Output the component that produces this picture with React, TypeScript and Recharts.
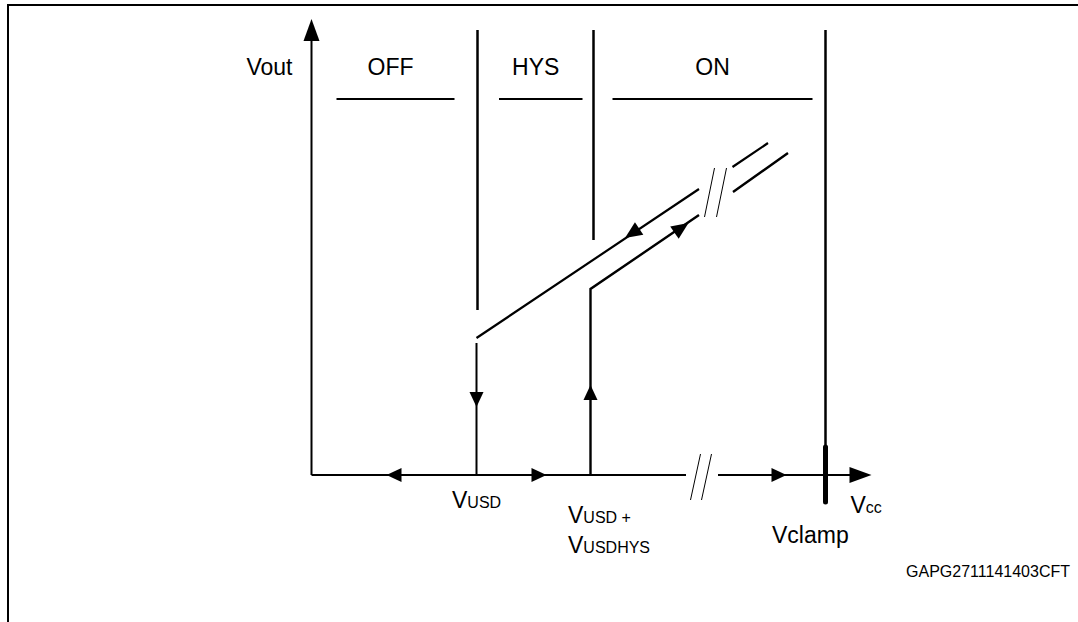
// Undervoltage shutdown hysteresis diagram (Recharts ComposedChart)
import React from "react";
import {
  ComposedChart,
  Line,
  Scatter,
  XAxis,
  YAxis,
  ReferenceLine,
  ReferenceDot,
} from "recharts";

const FONT = '"Liberation Sans", Arial, sans-serif';

// drawing units: Vcc across, Vout up, origin where the two axes meet
const vccDomain = [-31.15, 76.65];
const voutDomain = [-14.7, 47.5];

// operating zones written over the plot
const zoneNames = ["OFF", "HYS", "ON"];
const zoneFrom = [2.5, 18.75, 30.1];
const zoneTo = [14.3, 27.1, 50.1];
const zoneVout = 37.6;

// vertical zone dividers
const dividerVcc = [16.6, 28.2, 51.4];
const dividerTop = [44.5, 44.5, 44.5];
const dividerBottom = [16.5, 23.5, 2.8];
const clampMark = [2.8, -2.7];

// thresholds on the Vcc axis
const vusd = 16.5;
const vusdHys = 27.9;
const vclamp = 51.4;
const vccEnd = 56.0;
const voutEnd = 45.6;

// falling branch (from ON down to OFF), null = break in the line
const fallVcc = [45.65, 42.1, 40.4, 38.75, 16.5];
const fallVout = [33.2, 30.8, null, 28.6, 13.7];
const dropVcc = [16.5, 16.5];
const dropVout = [13.2, 0];

// rising branch (from OFF up to ON)
const riseVcc = [27.9, 27.9, 38.75, 40.4, 42.15, 47.65];
const riseVout = [0, 18.6, 26.0, null, 28.3, 32.2];

// axes
const axisVcc = [0, 37.45, 39.0, 40.65, 55.0];
const axisVout = [0, 0, null, 0, 0];
const yAxisVcc = [0, 0];
const yAxisVout = [0, 44.0];

// "//" break marks
const axisBreakVcc = [37.9, 39.0];
const axisBreakVout = [-2.5, 2.1];
const slopeBreakVcc = [39.3, 40.5];
const slopeBreakVout = [25.8, 30.7];

const deg = (dy: number, dx: number) => (Math.atan2(dy, dx) * 180) / Math.PI;
const fallAngle = deg(fallVout[3]! - fallVout[4]!, fallVcc[3] - fallVcc[4]) + 180;
const riseAngle = deg(riseVout[2]! - riseVout[1]!, riseVcc[2] - riseVcc[1]);

// flow arrows on the Vcc axis and the two verticals
const arrowVcc = [7.5, 23.5, 47.5, 16.5, 27.9];
const arrowVout = [0, 0, 0, 6.8, 9.0];
const arrowAngle = [180, 0, 0, -90, 90];

// flow arrows on the two slopes
const slopeArrowVcc = [31.35, 37.7];
const slopeArrowVout = [23.7, 25.2];
const slopeArrowAngle = [fallAngle, riseAngle];

// axis heads
const headVcc = [vccEnd, 0];
const headVout = [0, voutEnd];
const headAngle = [0, 90];

const pts = (xs: number[], ys: (number | null)[]) =>
  xs.map((x, i) => ({ vcc: x, vout: ys[i] }));

const arrows = (xs: number[], ys: number[], angles: number[]) =>
  xs.map((x, i) => ({ vcc: x, vout: ys[i], angle: angles[i] }));

const arrowShape = (len: number, half: number) => (p: any) =>
  (
    <polygon
      points={`0,0 ${-len},${-half} ${-len},${half}`}
      transform={`translate(${p.cx},${p.cy}) rotate(${-p.payload.angle})`}
      fill="#000"
    />
  );

const SubText = ({
  x,
  y,
  main,
  sub,
}: {
  x: number;
  y: number;
  main: string;
  sub: string;
}) => (
  <text x={x} y={y} fontFamily={FONT} fill="#000">
    <tspan fontSize={23}>{main}</tspan>
    <tspan fontSize={16}>{sub}</tspan>
  </text>
);

const seg = (x1: number, y1: number, x2: number, y2: number) => [
  { x: x1, y: y1 },
  { x: x2, y: y2 },
];

export default function App() {
  const lineProps = {
    dataKey: "vout",
    stroke: "#000",
    dot: false,
    activeDot: false,
    isAnimationActive: false,
  } as const;

  return (
    <div
      style={{
        position: "absolute",
        left: 0,
        top: 0,
        width: 1078,
        height: 622,
        background: "#fff",
      }}
    >
      <div
        style={{
          position: "absolute",
          left: 7,
          top: 4,
          width: 1071,
          height: 618,
          borderTop: "2px solid #000",
          borderLeft: "2px solid #000",
        }}
      />
      <div
        style={{
          position: "absolute",
          right: 8,
          top: 563,
          fontFamily: FONT,
          fontSize: 16,
          color: "#000",
        }}
      >
        GAPG2711141403CFT
      </div>
      <div style={{ position: "absolute", left: 0, top: 0 }}>
        <ComposedChart
          width={1078}
          height={622}
          margin={{ top: 0, right: 0, bottom: 0, left: 0 }}
        >
          <XAxis
            dataKey="vcc"
            type="number"
            domain={vccDomain}
            allowDataOverflow
            hide
          />
          <YAxis type="number" domain={voutDomain} allowDataOverflow hide />

          {zoneNames.map((_, i) => (
            <ReferenceLine
              key={"z" + i}
              segment={seg(zoneFrom[i], zoneVout, zoneTo[i], zoneVout)}
              stroke="#000"
              strokeWidth={2}
            />
          ))}
          {dividerVcc.map((x, i) => (
            <ReferenceLine
              key={"d" + i}
              segment={seg(x, dividerTop[i], x, dividerBottom[i])}
              stroke="#000"
              strokeWidth={2.5}
            />
          ))}
          <ReferenceLine
            segment={seg(vclamp, clampMark[0], vclamp, clampMark[1])}
            stroke="#000"
            strokeWidth={5}
            strokeLinecap="round"
          />
          {[0, 1].map((i) => (
            <ReferenceLine
              key={"ab" + i}
              segment={seg(
                axisBreakVcc[i],
                axisBreakVout[0],
                axisBreakVcc[i] + 1.0,
                axisBreakVout[1]
              )}
              stroke="#000"
              strokeWidth={1}
            />
          ))}
          {[0, 1].map((i) => (
            <ReferenceLine
              key={"sb" + i}
              segment={seg(
                slopeBreakVcc[i],
                slopeBreakVout[0],
                slopeBreakVcc[i] + 1.0,
                slopeBreakVout[1]
              )}
              stroke="#000"
              strokeWidth={1}
            />
          ))}

          <Line data={pts(axisVcc, axisVout)} strokeWidth={2} {...lineProps} />
          <Line data={pts(yAxisVcc, yAxisVout)} strokeWidth={2} {...lineProps} />
          <Line data={pts(fallVcc, fallVout)} strokeWidth={2.2} {...lineProps} />
          <Line data={pts(dropVcc, dropVout)} strokeWidth={2} {...lineProps} />
          <Line data={pts(riseVcc, riseVout)} strokeWidth={2.4} {...lineProps} />

          <Scatter
            data={arrows(arrowVcc, arrowVout, arrowAngle)}
            dataKey="vout"
            shape={arrowShape(15, 7)}
            isAnimationActive={false}
          />
          <Scatter
            data={arrows(slopeArrowVcc, slopeArrowVout, slopeArrowAngle)}
            dataKey="vout"
            shape={arrowShape(17, 7.5)}
            isAnimationActive={false}
          />
          <Scatter
            data={arrows(headVcc, headVout, headAngle)}
            dataKey="vout"
            shape={arrowShape(22, 8)}
            isAnimationActive={false}
          />

          {zoneNames.map((name, i) => (
            <ReferenceDot
              key={"zl" + i}
              x={(zoneFrom[i] + zoneTo[i]) / 2}
              y={zoneVout}
              r={0}
              shape={(p: any) => (
                <text
                  x={p.cx - (i < 2 ? 5 : 0)}
                  y={p.cy - 24}
                  textAnchor="middle"
                  fontFamily={FONT}
                  fontSize={23}
                  fill="#000"
                >
                  {name}
                </text>
              )}
            />
          ))}
          <ReferenceDot
            x={0}
            y={voutEnd}
            r={0}
            shape={(p: any) => (
              <text
                x={p.cx - 19}
                y={p.cy + 56}
                textAnchor="end"
                fontFamily={FONT}
                fontSize={23}
                fill="#000"
              >
                Vout
              </text>
            )}
          />
          <ReferenceDot
            x={vusd}
            y={0}
            r={0}
            shape={(p: any) => (
              <SubText x={p.cx - 24.5} y={p.cy + 33} main="V" sub="USD" />
            )}
          />
          <ReferenceDot
            x={vusdHys}
            y={0}
            r={0}
            shape={(p: any) => (
              <g>
                <SubText x={p.cx - 22.5} y={p.cy + 48} main="V" sub="USD +" />
                <SubText x={p.cx - 22.5} y={p.cy + 78} main="V" sub="USDHYS" />
              </g>
            )}
          />
          <ReferenceDot
            x={vclamp}
            y={0}
            r={0}
            shape={(p: any) => (
              <text
                x={p.cx - 53.5}
                y={p.cy + 68}
                fontFamily={FONT}
                fontSize={23}
                fill="#000"
              >
                Vclamp
              </text>
            )}
          />
          <ReferenceDot
            x={vccEnd}
            y={0}
            r={0}
            shape={(p: any) => (
              <SubText x={p.cx - 21} y={p.cy + 38} main="V" sub="cc" />
            )}
          />
        </ComposedChart>
      </div>
    </div>
  );
}
